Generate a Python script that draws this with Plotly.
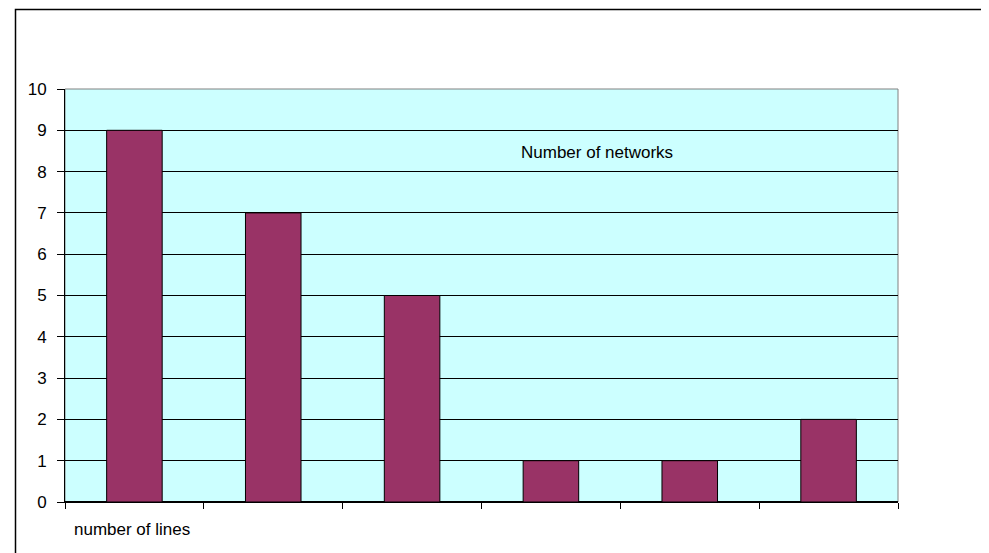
import plotly.graph_objects as go

categories = ["1", "2", "3", "4", "5", "6"]
networks = [9, 7, 5, 1, 1, 2]
y_ticks = list(range(0, 11))

# page body has an 8px offset; layout computed in figure pixels
OFF = 8
W, H = 989, 553
L, R, T, B = 65 - OFF, 91 + OFF, 89 - OFF, 51 + OFF
pw, ph = W - L - R, H - T - B

def px_to_paper_x(px):
    return (px - OFF - L) / pw

def px_to_paper_y(py):
    return (H - B - (py - OFF)) / ph

fig = go.Figure()
fig.add_trace(go.Bar(
    x=categories, y=networks,
    marker=dict(color="#993366", line=dict(color="#000000", width=1)),
    showlegend=False, hoverinfo="skip",
))

fig.update_layout(
    width=W, height=H,
    margin=dict(l=L, r=R, t=T, b=B, pad=0),
    paper_bgcolor="white",
    plot_bgcolor="#CCFFFF",
    bargap=0.6,
    font=dict(family="Liberation Sans, Arial, sans-serif", size=17, color="#000000"),
    xaxis=dict(
        type="category",
        showticklabels=False,
        ticks="outside", tickson="boundaries", ticklen=6, tickcolor="#000000",
        showgrid=False,
        showline=True, linecolor="#000000", linewidth=1,
        zeroline=False,
        range=[-0.5, 5.5],
    ),
    yaxis=dict(
        range=[0, 10],
        tickvals=y_ticks,
        ticks="outside", ticklen=7, tickcolor="#000000",
        showgrid=True, gridcolor="#000000", gridwidth=1,
        showline=True, linecolor="#000000", linewidth=1,
        zeroline=True, zerolinecolor="#000000",
        ticklabelstandoff=7,
    ),
    shapes=[
        dict(type="rect", xref="paper", yref="paper", x0=0, x1=1, y0=0, y1=1,
             line=dict(color="#808080", width=1), fillcolor="rgba(0,0,0,0)", layer="below"),
        dict(type="rect", xref="paper", yref="paper",
             x0=px_to_paper_x(15.5), x1=px_to_paper_x(1030),
             y0=px_to_paper_y(600), y1=px_to_paper_y(9.5),
             line=dict(color="#000000", width=1.5), fillcolor="rgba(0,0,0,0)"),
    ],
    annotations=[
        dict(text="Number of networks", xref="paper", yref="paper",
             x=px_to_paper_x(597), y=px_to_paper_y(153),
             xanchor="center", yanchor="middle", showarrow=False,
             font=dict(size=17)),
        dict(text="number of lines", xref="paper", yref="paper",
             x=px_to_paper_x(72), y=px_to_paper_y(529),
             xanchor="left", yanchor="middle", showarrow=False,
             font=dict(size=17)),
    ],
)

fig.write_html("out.html")
